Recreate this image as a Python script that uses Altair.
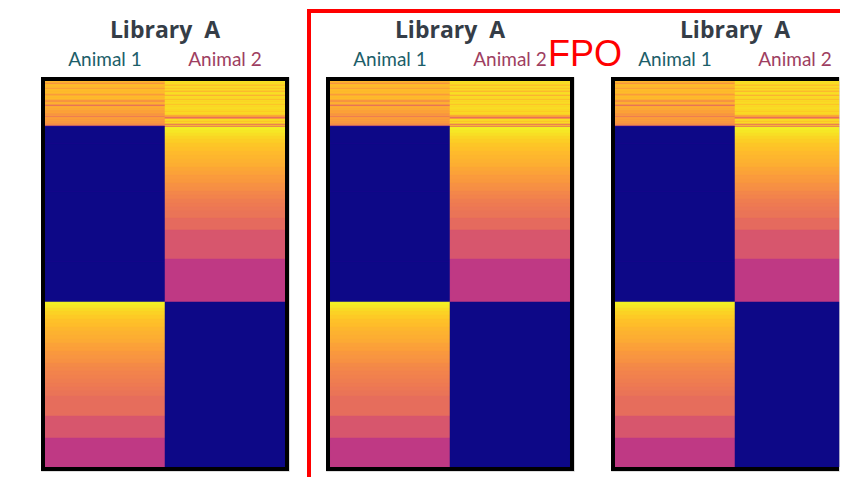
import altair as alt
import pandas as pd

animals = ["Animal 1", "Animal 2"]
animal_colors = ["#1c5e69", "#9e3e61"]
panel_title = "Library\u00a0 A"
fpo_text = "FPO"
total_rows = 386

# Top mixed section: one value per row (rows 0-44)
top_animal1 = [0.84, 0.84, 0.72, 0.84, 0.86, 0.84, 0.86, 0.76, 0.85, 0.86,
               0.84, 0.86, 0.85, 0.76, 0.80, 0.86, 0.84, 0.86, 0.83, 0.76,
               0.72, 0.82, 0.83, 0.80, 0.60, 0.80, 0.82, 0.80, 0.81, 0.79,
               0.78, 0.80, 0.77, 0.74, 0.79, 0.66, 0.77, 0.78, 0.76, 0.78,
               0.75, 0.77, 0.74, 0.73, 0.70]
top_animal2 = [0.95, 0.93, 0.94, 0.92, 0.85, 0.93, 0.94, 0.86, 0.93, 0.92,
               0.82, 0.93, 0.94, 0.93, 0.80, 0.93, 0.92, 0.94, 0.84, 0.93,
               0.91, 0.93, 0.94, 0.86, 0.93, 0.92, 0.93, 0.94, 0.92, 0.93,
               0.88, 0.93, 0.92, 0.93, 0.80, 0.82, 0.62, 0.70, 0.93, 0.94,
               0.86, 0.93, 0.92, 0.62, 0.90]

# Lower sections: band start rows and values (each band ends where the next begins)
animal1_band_starts = [45, 46, 62, 63, 110, 111, 180, 181,
                       221, 224, 227, 230, 234, 238, 242, 246, 250, 254, 258,
                       262, 266, 270, 274, 278, 282, 286, 290, 294, 298, 302,
                       306, 310, 315, 335, 357]
animal1_band_values = [0.05, 0.0, 0.015, 0.0, 0.015, 0.0, 0.015, 0.0,
                       0.98, 0.96, 0.93, 0.91, 0.89, 0.87, 0.86, 0.84, 0.83, 0.82, 0.81,
                       0.79, 0.78, 0.76, 0.75, 0.74, 0.72, 0.71, 0.70, 0.69, 0.68, 0.67,
                       0.66, 0.65, 0.63, 0.55, 0.45]

animal2_band_starts = [45, 46, 49, 52, 55, 58, 62, 66, 70, 74, 78, 82, 86, 90,
                       94, 98, 102, 106, 110, 114, 118, 122, 126, 130, 137, 149,
                       178, 221]
animal2_band_values = [0.62, 0.98, 0.96, 0.94, 0.92, 0.90, 0.88, 0.87, 0.85, 0.84,
                       0.83, 0.82, 0.80, 0.79, 0.77, 0.76, 0.74, 0.73, 0.71, 0.70,
                       0.68, 0.67, 0.66, 0.65, 0.62, 0.55, 0.45, 0.0]

COL_W = 120  # data units per animal column

records = []
for col, (animal, top_vals, starts, vals) in enumerate([
    ("Animal 1", top_animal1, animal1_band_starts, animal1_band_values),
    ("Animal 2", top_animal2, animal2_band_starts, animal2_band_values),
]):
    for i, v in enumerate(top_vals):
        records.append({"animal": animal, "x0": col * COL_W, "x1": (col + 1) * COL_W,
                        "start": i, "end": i + 1, "value": v})
    ends = starts[1:] + [total_rows]
    for s, e, v in zip(starts, ends, vals):
        records.append({"animal": animal, "x0": col * COL_W, "x1": (col + 1) * COL_W,
                        "start": s, "end": e, "value": v})

df = pd.DataFrame(records)
labels_df = pd.DataFrame({"animal": animals,
                          "center": [(i + 0.5) * COL_W for i in range(len(animals))]})
one = pd.DataFrame({"k": [0]})

PANEL_H = 394
plasma = alt.Scale(scheme="plasma", domain=[0, 1])


def build(width, extra=()):
    xscale = alt.Scale(domain=[-4, width - 4], nice=False, zero=False, clamp=True)
    yscale = alt.Scale(domain=[-4, total_rows + 4], reverse=True, nice=False, zero=False)
    heat = alt.Chart(df).mark_rect(strokeWidth=0.5).encode(
        x=alt.X("x0:Q", scale=xscale, axis=None),
        x2="x1",
        y=alt.Y("start:Q", scale=yscale, axis=None),
        y2="end",
        color=alt.Color("value:Q", scale=plasma, legend=None),
        stroke=alt.Stroke("value:Q", scale=plasma, legend=None),
    )
    labels = alt.Chart(labels_df).mark_text(font="Lato", fontSize=19, align="center",
                                            baseline="alphabetic").encode(
        x=alt.X("center:Q", scale=xscale, axis=None),
        y=alt.value(-11),
        text="animal:N",
        color=alt.condition(alt.datum.animal == animals[0],
                            alt.value(animal_colors[0]), alt.value(animal_colors[1])),
    )
    title = alt.Chart(one).mark_text(text=panel_title, font="Open Sans", fontSize=23,
                                     fontWeight="bold", color="#353d47",
                                     align="center", baseline="alphabetic").encode(
        x=alt.value(124), y=alt.value(-39)
    )
    right = min(width, 248)
    sides = [
        alt.Chart(one).mark_rect(color="black").encode(
            x=alt.value(0), x2=alt.value(right), y=alt.value(0), y2=alt.value(4)),
        alt.Chart(one).mark_rect(color="black").encode(
            x=alt.value(0), x2=alt.value(right), y=alt.value(390), y2=alt.value(394)),
        alt.Chart(one).mark_rect(color="black").encode(
            x=alt.value(0), x2=alt.value(4), y=alt.value(0), y2=alt.value(394)),
    ]
    if width >= 248:
        sides.append(alt.Chart(one).mark_rect(color="black").encode(
            x=alt.value(244), x2=alt.value(248), y=alt.value(0), y2=alt.value(394)))
    return alt.layer(heat, labels, title, *sides, *extra).properties(
        width=width, height=PANEL_H)


frame_top = alt.Chart(one).mark_rect(color="#ff0000").encode(
    x=alt.value(-19), x2=alt.value(514), y=alt.value(-68), y2=alt.value(-64)
)
frame_left = alt.Chart(one).mark_rect(color="#ff0000").encode(
    x=alt.value(-19), x2=alt.value(-15), y=alt.value(-68), y2=alt.value(400)
)
fpo = alt.Chart(one).mark_text(text=fpo_text, font="Liberation Sans", fontSize=36,
                               color="#ff0000", align="center",
                               baseline="alphabetic").encode(
    x=alt.value(259), y=alt.value(-11)
)

p1 = build(248)
p2 = build(248, extra=(frame_top, frame_left, fpo))
p3 = build(228)

chart = alt.hconcat(p1, p2, p3, spacing=37, bounds="flush").properties(
    padding={"left": 32, "top": 0, "right": 0, "bottom": 0}
).configure_view(stroke="transparent", strokeWidth=0).configure(background="white")

chart.save("out.html", embed_options={"renderer": "svg", "actions": False})
